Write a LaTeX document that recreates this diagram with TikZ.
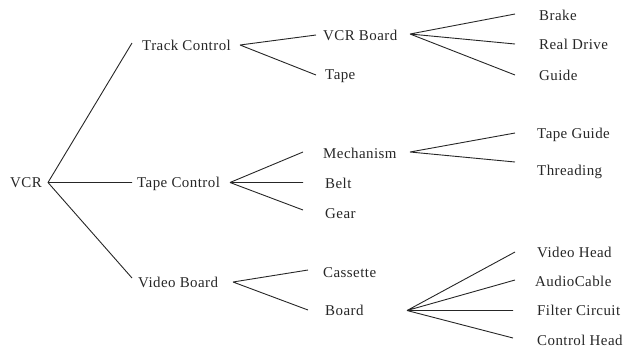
\documentclass[tikz,border=0pt]{standalone}
\usepackage{fontspec}
\setmainfont{Liberation Serif}[LetterSpace=3]
\begin{document}
\begin{tikzpicture}[x=1bp,y=-1bp,
  lbl/.style={anchor=base west,inner sep=0pt,font=\fontsize{15}{18}\selectfont,text=black!85},
  link/.style={draw=black!85,line width=0.9bp}]
\useasboundingbox (0,0) rectangle (625,347);

% labels (baseline = visual centre + 5)
\node[lbl] (vcr)   at (10,187)  {VCR};
\node[lbl] (track) at (142,50)  {Track Control};
\node[lbl] (tapec) at (137,187) {Tape Control};
\node[lbl] (vboard) at (138,287) {Video Board};
\node[lbl] (vcrb)  at (323,40)  {VCR Board};
\node[lbl] (tape)  at (325,79)  {Tape};
\node[lbl] (mech)  at (323,158) {Mechanism};
\node[lbl] (belt)  at (325,188) {Belt};
\node[lbl] (gear)  at (325,218) {Gear};
\node[lbl] (cass)  at (323,277) {Cassette};
\node[lbl] (board) at (325,315) {Board};
\node[lbl] (brake) at (539,20)  {Brake};
\node[lbl] (rdrive) at (539,49) {Real Drive};
\node[lbl] (guide) at (539,80)  {Guide};
\node[lbl] (tguide) at (537,138) {Tape Guide};
\node[lbl] (thread) at (537,175) {Threading};
\node[lbl] (vhead) at (537,257) {Video Head};
\node[lbl] (acable) at (535,286) {AudioCable};
\node[lbl] (filter) at (537,315) {Filter Circuit};
\node[lbl] (chead) at (537,345) {Control Head};

% branch points and line ends
\coordinate (vcr-r)    at (48,182.5);
\coordinate (track-l)  at (132,43);
\coordinate (tapec-l)  at (132,182.5);
\coordinate (vboard-l) at (132,278);
\coordinate (track-r)  at (240,45);
\coordinate (vcrb-l)   at (316,35);
\coordinate (tape-l)   at (316,75);
\coordinate (vcrb-r)   at (410,34);
\coordinate (brake-l)  at (515,14);
\coordinate (rdrive-l) at (515,44);
\coordinate (guide-l)  at (515,75);
\coordinate (tapec-r)  at (230,182.5);
\coordinate (mech-l)   at (303,152);
\coordinate (belt-l)   at (303,182.5);
\coordinate (gear-l)   at (303,210);
\coordinate (mech-r)   at (410,152);
\coordinate (tguide-l) at (515,133);
\coordinate (thread-l) at (515,162);
\coordinate (vboard-r) at (233,282);
\coordinate (cass-l)   at (308,270);
\coordinate (board-l)  at (308,310);
\coordinate (board-r)  at (407,310.5);
\coordinate (vhead-l)  at (515,252);
\coordinate (acable-l) at (515,280);
\coordinate (filter-l) at (513,310.5);
\coordinate (chead-l)  at (513,338);

% tree connectors
\path[link] (vcr-r) -- (track-l) (vcr-r) -- (tapec-l) (vcr-r) -- (vboard-l);
\path[link] (track-r) -- (vcrb-l) (track-r) -- (tape-l);
\path[link] (vcrb-r) -- (brake-l) (vcrb-r) -- (rdrive-l) (vcrb-r) -- (guide-l);
\path[link] (tapec-r) -- (mech-l) (tapec-r) -- (belt-l) (tapec-r) -- (gear-l);
\path[link] (mech-r) -- (tguide-l) (mech-r) -- (thread-l);
\path[link] (vboard-r) -- (cass-l) (vboard-r) -- (board-l);
\path[link] (board-r) -- (vhead-l) (board-r) -- (acable-l) (board-r) -- (filter-l) (board-r) -- (chead-l);
\end{tikzpicture}
\end{document}
